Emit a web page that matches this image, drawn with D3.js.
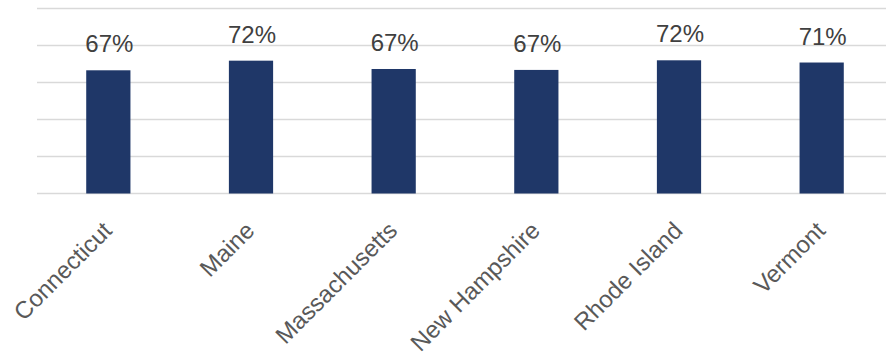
<!DOCTYPE html>
<meta charset="utf-8">
<script src="https://d3js.org/d3.v7.min.js"></script>

<style>
body {
  margin: 0;
  background-color: #FFFFFF;
  font-family: "Liberation Sans", Arial, sans-serif;
}
.grid line {
  stroke: #D9D9D9;
  stroke-width: 1.5;
}
.value-label {
  fill: #404040;
  font-size: 24px;
}
.cat-label {
  fill: #595959;
  font-size: 24px;
}
</style>

<svg id="chart" width="886" height="355"></svg>

<script>
// data
const states = ["Connecticut", "Maine", "Massachusetts", "New Hampshire", "Rhode Island", "Vermont"];
const shares = [66.6, 71.8, 67.3, 66.8, 72.0, 70.8];
const gridTicks = [0, 20, 40, 60, 80, 100];

const svg = d3.select("#chart"),
	width = +svg.attr("width"),
	height = +svg.attr("height");

// plot area
const plotLeft = 37, plotRight = 893, plotTop = 8.5, plotBottom = 193.5;

const x = d3.scaleBand()
	.domain(states)
	.range([plotLeft, plotRight])
	.paddingInner(0.69)
	.paddingOuter(0.345);

const y = d3.scaleLinear()
	.domain([0, 100])
	.range([plotBottom, plotTop]);

// gridlines
svg.append("g")
	.attr("class", "grid")
	.selectAll("line")
	.data(gridTicks)
	.enter().append("line")
	.attr("x1", plotLeft)
	.attr("x2", width)
	.attr("y1", d => y(d))
	.attr("y2", d => y(d));

// bars
svg.append("g")
	.selectAll("rect")
	.data(states)
	.enter().append("rect")
	.attr("x", d => x(d))
	.attr("y", (d, i) => y(shares[i]))
	.attr("width", x.bandwidth())
	.attr("height", (d, i) => y(0) - y(shares[i]))
	.attr("fill", "#1F3768");

// value labels
svg.append("g")
	.selectAll("text")
	.data(states)
	.enter().append("text")
	.attr("class", "value-label")
	.attr("x", d => x(d) + x.bandwidth() / 2 + 1)
	.attr("y", (d, i) => y(shares[i]) - 18)
	.attr("text-anchor", "middle")
	.text((d, i) => Math.round(shares[i]) + "%");

// rotated category labels
svg.append("g")
	.selectAll("text")
	.data(states)
	.enter().append("text")
	.attr("class", "cat-label")
	.attr("text-anchor", "end")
	.attr("transform", d => "translate(" + (x(d) + x.bandwidth() / 2 + 5) + "," + 232 + ") rotate(-45)")
	.text(d => d);
</script>
